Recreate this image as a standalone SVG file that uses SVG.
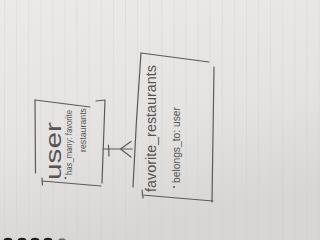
<svg xmlns="http://www.w3.org/2000/svg" width="320" height="240" viewBox="0 0 320 240">
  <defs>
    <linearGradient id="paper" x1="0" y1="0" x2="0.3" y2="1">
      <stop offset="0" stop-color="#ebeae8"/>
      <stop offset="0.6" stop-color="#e4e3e1"/>
      <stop offset="1" stop-color="#d8d6d5"/>
    </linearGradient>
    <pattern id="rules" x="4" y="0" width="12.1" height="240" patternUnits="userSpaceOnUse">
      <line x1="0.5" y1="0" x2="0.5" y2="240" stroke="#c8c0b8" stroke-width="0.8" stroke-opacity="0.3"/>
    </pattern>
  </defs>
  <style>
    .ink { fill: none; stroke: #5a5a59; stroke-width: 1.2; stroke-linecap: round; stroke-linejoin: round; }
    .hand { fill: #555554; font-family: "Liberation Sans", "DejaVu Sans", sans-serif; }
    .dot { fill: #555554; }
  </style>

  <!-- notebook page -->
  <rect width="320" height="240" fill="url(#paper)"/>
  <rect width="320" height="240" fill="url(#rules)"/>
  <!-- spiral binding holes -->
  <g fill="#1e1e1e">
    <ellipse cx="8" cy="241" rx="4.5" ry="3.2"/>
    <ellipse cx="22" cy="241" rx="4.5" ry="3.2"/>
    <ellipse cx="35" cy="241" rx="4.5" ry="3.2"/>
    <ellipse cx="48" cy="241" rx="4.5" ry="3.2"/>
    <ellipse cx="62" cy="241" rx="4" ry="2.8" fill="#6a6a6a"/>
  </g>

  <!-- entity: user -->
  <g id="user">
    <path class="ink" d="M35,100 L35.5,173"/>
    <path class="ink" d="M35,100 L90,107"/>
    <path class="ink" d="M96,101 L105,100 L102,183"/>
    <path class="ink" d="M42,178 L42.5,185 M42,181 L101,186"/>
    <text class="hand" font-size="22" transform="translate(61,180) rotate(-90)" textLength="58" lengthAdjust="spacingAndGlyphs">user</text>
    <circle class="dot" cx="65.5" cy="178" r="1"/>
    <text class="hand" font-size="9" transform="translate(72,175) rotate(-90)" textLength="65" lengthAdjust="spacingAndGlyphs">has_many: favorite</text>
    <text class="hand" font-size="9" transform="translate(86,152) rotate(-90)" textLength="44" lengthAdjust="spacingAndGlyphs">restaurants</text>
  </g>

  <!-- entity: favorite_restaurants -->
  <g id="favorite_restaurants">
    <path class="ink" d="M141,53 Q136,120 133,187"/>
    <path class="ink" d="M141,53 L209,62"/>
    <path class="ink" d="M214,67 L212,202"/>
    <path class="ink" d="M142,190 L143,198 M142,195 L213,201"/>
    <text class="hand" font-size="15" transform="translate(156,192) rotate(-90)" textLength="127" lengthAdjust="spacingAndGlyphs">favorite_restaurants</text>
    <circle class="dot" cx="174" cy="187" r="1"/>
    <text class="hand" font-size="10" transform="translate(180,183) rotate(-90)" textLength="76" lengthAdjust="spacingAndGlyphs">belongs_to: user</text>
  </g>

  <!-- one-to-many relation -->
  <g id="connectors">
    <path class="ink" d="M103,149 L132,149"/>
    <path class="ink" d="M108.5,145 L109,156"/>
    <path class="ink" d="M131,141.5 L120.5,149 L131,157"/>
  </g>
</svg>
